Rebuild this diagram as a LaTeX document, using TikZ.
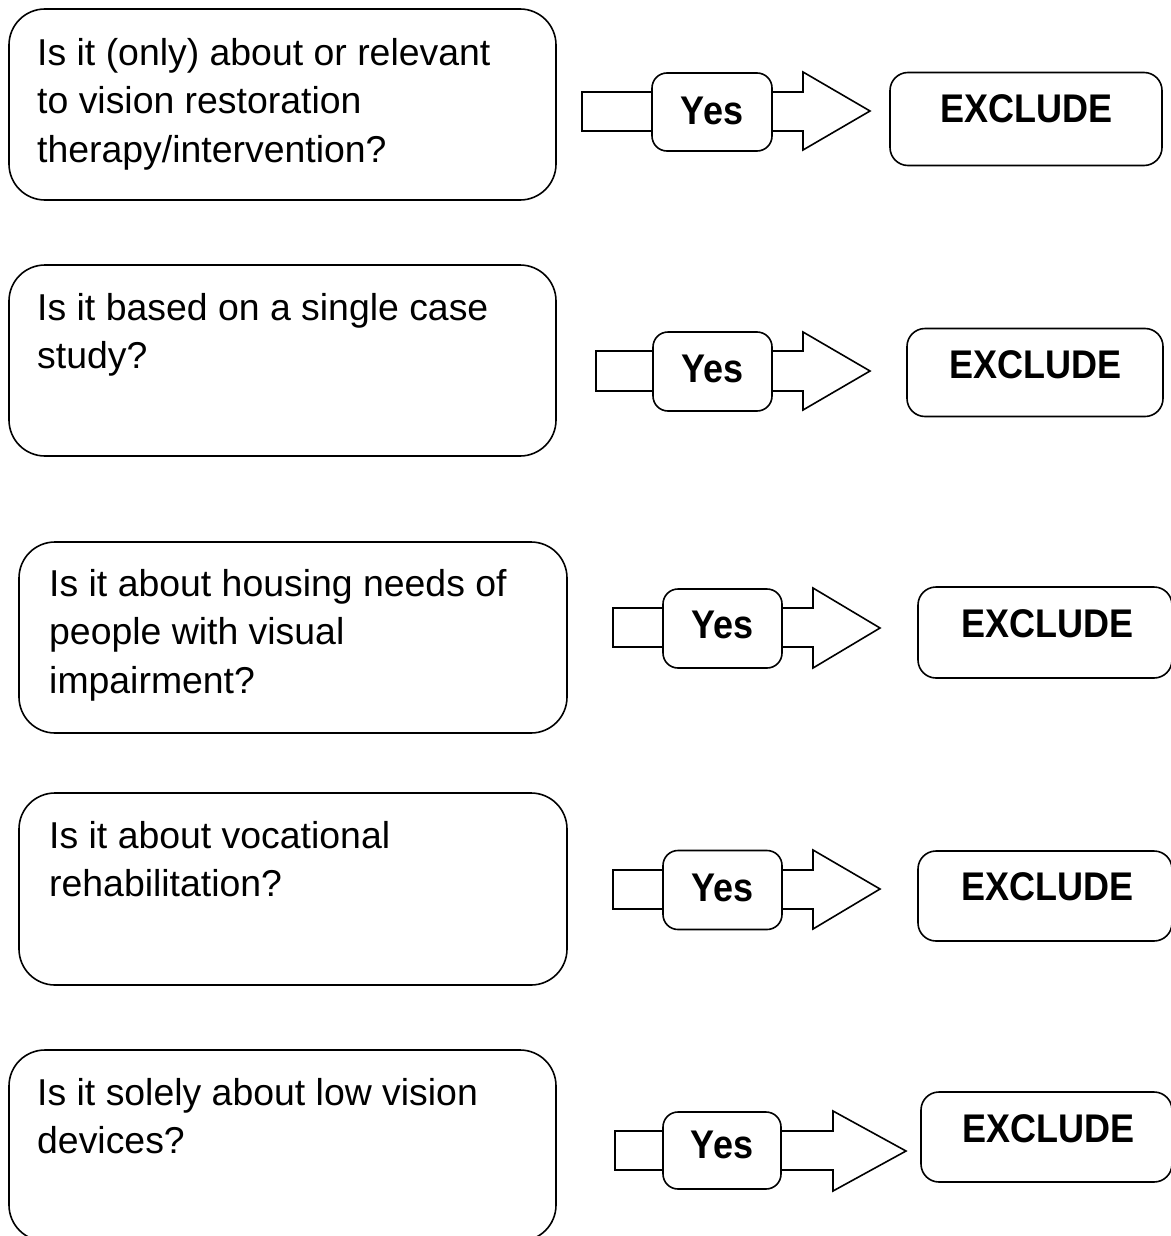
\documentclass[tikz,border=0pt]{standalone}
\usepackage{graphicx}
\usepackage{fontspec}
\setmainfont{Liberation Sans}
\newcommand{\narrowbold}[1]{\scalebox{0.9}[1]{\fontsize{40}{44}\selectfont\bfseries #1}}
\begin{document}
\begin{tikzpicture}[x=1pt,y=-1pt,
  lw/.style={line width=1.6pt},
  qbox/.style={lw, draw, rounded corners=36pt, inner sep=0pt},
  qtext/.style={anchor=north west, inner sep=0pt, align=left, font=\fontsize{37.4}{48.5}\selectfont},
  yesbox/.style={lw, draw, fill=white, rounded corners=15pt, inner sep=0pt},
  exbox/.style={lw, draw, rounded corners=18pt, inner sep=0pt},
  btext/.style={inner sep=0pt},
  blockarrow/.style={lw, draw, fill=white, line join=miter}
]
\useasboundingbox (0,0) rectangle (1170,1236);

% ---------- Row 1 ----------
\node[qbox, minimum width=547pt, minimum height=191pt] (q1) at (282.5,104.5) {};
\node[qtext] (q1t) at (37,38) {Is it (only) about or relevant\\to vision restoration\\therapy/intervention?};
\draw[blockarrow] (582,92) -- (803,92) -- (803,72) -- (870,111) -- (803,150) -- (803,131) -- (582,131) -- cycle;
\node[yesbox, minimum width=120pt, minimum height=78pt] (y1) at (712,112) {};
\node[btext] (y1t) at (712,111) {\narrowbold{Yes}};
\node[exbox, minimum width=272pt, minimum height=93pt] (e1) at (1026,119) {};
\node[btext] (e1t) at (1026,109) {\narrowbold{EXCLUDE}};

% ---------- Row 2 ----------
\node[qbox, minimum width=547pt, minimum height=191pt] (q2) at (282.5,360.5) {};
\node[qtext] (q2t) at (37,293) {Is it based on a single case\\study?};
\draw[blockarrow] (596,351) -- (803,351) -- (803,332) -- (870,371) -- (803,410) -- (803,391) -- (596,391) -- cycle;
\node[yesbox, minimum width=119pt, minimum height=79pt] (y2) at (712.5,371.5) {};
\node[btext] (y2t) at (712.5,369) {\narrowbold{Yes}};
\node[exbox, minimum width=256pt, minimum height=88pt] (e2) at (1035,372.5) {};
\node[btext] (e2t) at (1035,365) {\narrowbold{EXCLUDE}};

% ---------- Row 3 ----------
\node[qbox, minimum width=548pt, minimum height=191pt] (q3) at (293,637.5) {};
\node[qtext] (q3t) at (49,569) {Is it about housing needs of\\people with visual\\impairment?};
\draw[blockarrow] (613,608) -- (813,608) -- (813,588) -- (880,628) -- (813,668) -- (813,647) -- (613,647) -- cycle;
\node[yesbox, minimum width=119pt, minimum height=79pt] (y3) at (722.5,628.5) {};
\node[btext] (y3t) at (722.5,625) {\narrowbold{Yes}};
\node[exbox, minimum width=254pt, minimum height=91pt] (e3) at (1045,632.5) {};
\node[btext] (e3t) at (1047,624) {\narrowbold{EXCLUDE}};

% ---------- Row 4 ----------
\node[qbox, minimum width=548pt, minimum height=192pt] (q4) at (293,889) {};
\node[qtext] (q4t) at (49,821) {Is it about vocational\\rehabilitation?};
\draw[blockarrow] (613,870) -- (813,870) -- (813,850) -- (880,889) -- (813,929) -- (813,909) -- (613,909) -- cycle;
\node[yesbox, minimum width=119pt, minimum height=79pt] (y4) at (722.5,890) {};
\node[btext] (y4t) at (722.5,888) {\narrowbold{Yes}};
\node[exbox, minimum width=254pt, minimum height=90pt] (e4) at (1045,896) {};
\node[btext] (e4t) at (1047,887) {\narrowbold{EXCLUDE}};

% ---------- Row 5 ----------
\node[qbox, minimum width=547pt, minimum height=191pt] (q5) at (282.5,1145.5) {};
\node[qtext] (q5t) at (37,1078) {Is it solely about low vision\\devices?};
\draw[blockarrow] (615,1131) -- (833,1131) -- (833,1111) -- (906,1151) -- (833,1191) -- (833,1170) -- (615,1170) -- cycle;
\node[yesbox, minimum width=118pt, minimum height=77pt] (y5) at (722,1150.5) {};
\node[btext] (y5t) at (722,1145) {\narrowbold{Yes}};
\node[exbox, minimum width=251pt, minimum height=90pt] (e5) at (1046.5,1137) {};
\node[btext] (e5t) at (1048,1129) {\narrowbold{EXCLUDE}};
\end{tikzpicture}
\end{document}
